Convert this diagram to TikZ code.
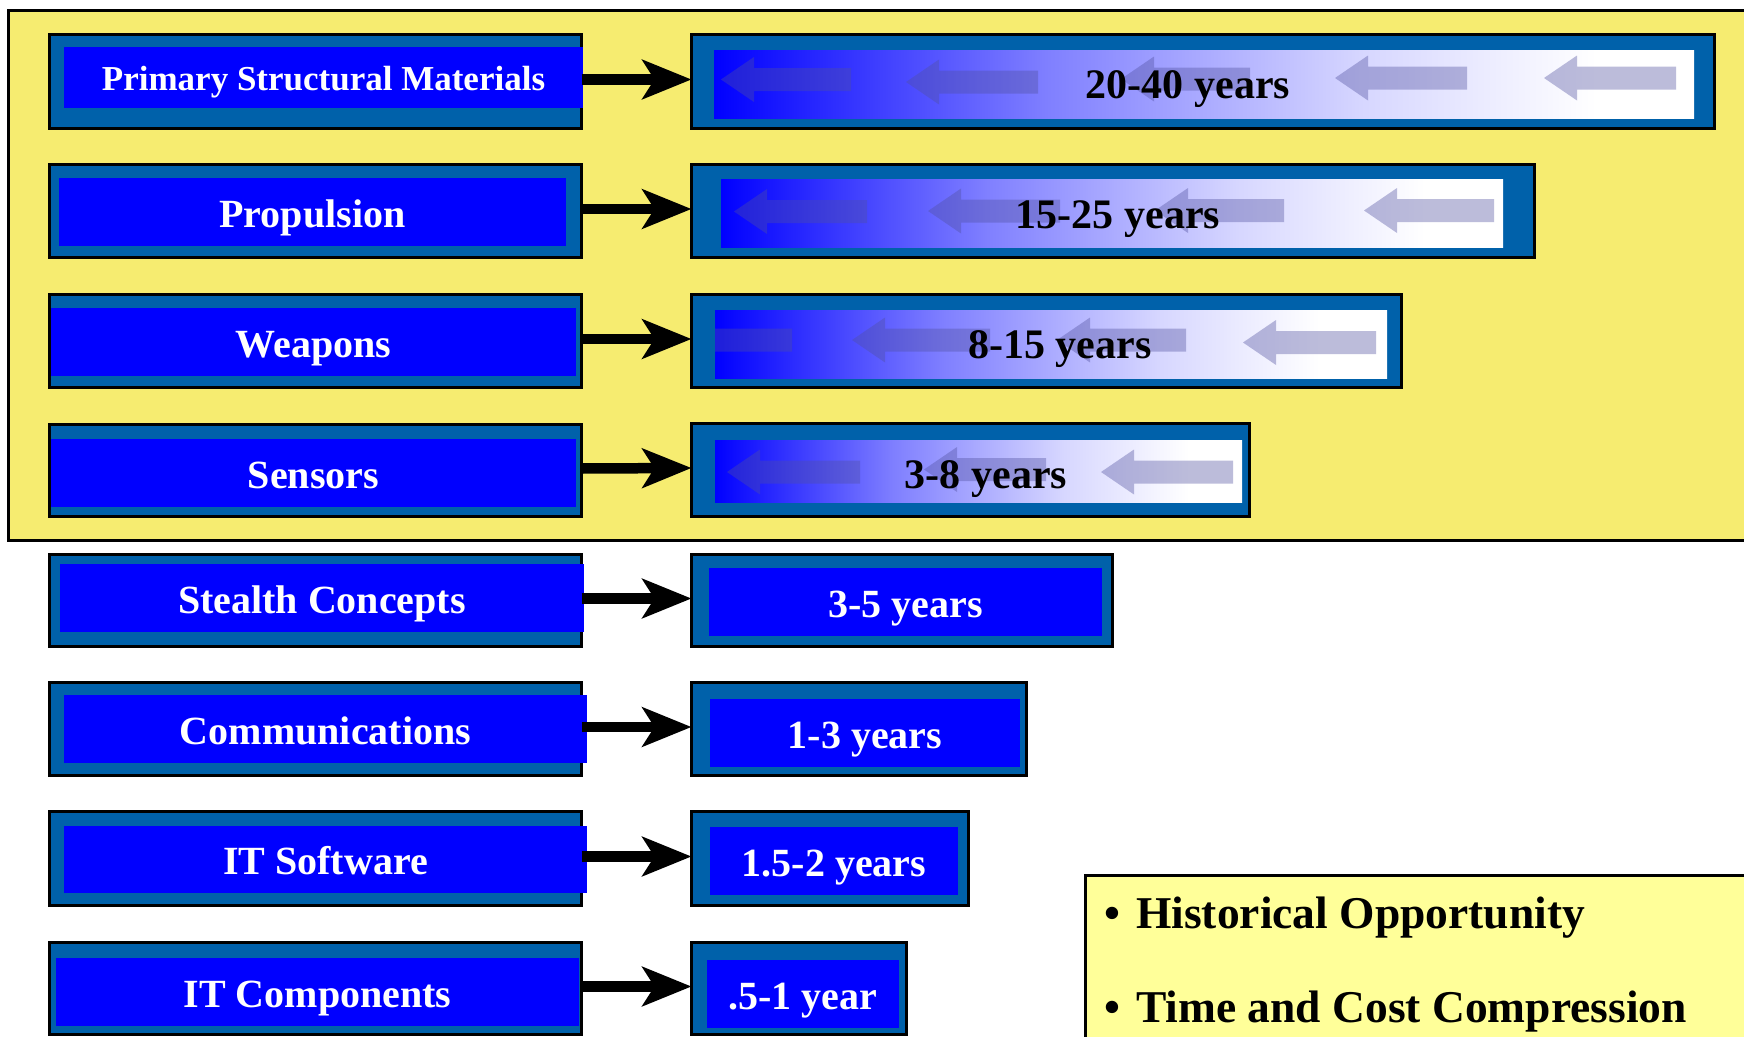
\documentclass[tikz,border=0pt]{standalone}
\usepackage{fontspec}
\setmainfont{Liberation Serif}
\usetikzlibrary{arrows.meta}
\definecolor{ybg}{RGB}{246,236,112}
\definecolor{ylight}{RGB}{255,255,153}
\definecolor{dblue}{RGB}{0,97,170}
\definecolor{garrc}{RGB}{80,80,160}
\colorlet{gmidA}{blue!50!white}
\colorlet{gmidB}{blue!16!white}
\pgfdeclarehorizontalshading{bwfade}{100bp}{color(0bp)=(blue); color(25bp)=(blue); color(42bp)=(gmidA); color(58bp)=(gmidB); color(70bp)=(white); color(100bp)=(white)}
\newcommand\bx[7]{\node[#6, minimum width={#4-#2}, minimum height={#5-#3}] (#1) at ({(#2+#4)/2},{(#3+#5)/2}) {#7};}
\newcommand\garr[3]{\fill[garrc, fill opacity=0.38] (#1,#3) -- ++(33,-22.5) -- ++(0,11) -- (#2,#3-11.5) -- (#2,#3+11.5) -- (#1+33,#3+11.5) -- ++(0,11) -- cycle;}
\tikzset{
  obox/.style={draw=black, line width=3pt, fill=dblue, inner sep=0pt, outer sep=0pt},
  ibox/.style={fill=blue, inner sep=0pt, outer sep=0pt, text=white, font=\bfseries\fontsize{40}{40}\selectfont, text height=30.5pt, text depth=0pt},
  gbox/.style={shading=bwfade, inner sep=0pt, outer sep=0pt},
  glabel/.style={inner sep=0pt, text=black, font=\bfseries\fontsize{42}{42}\selectfont, text height=30.8pt, text depth=0pt},
  blabel/.style={inner sep=0pt, text=black, font=\bfseries\fontsize{45.5}{45.5}\selectfont},
  conn/.style={line width=10.5pt, draw=black, -{Stealth[length=49pt, width=39pt, inset=12pt]}}
}
\begin{document}
\begin{tikzpicture}[x=1pt, y=-1pt]
\useasboundingbox (0,0) rectangle (1744,1036);
\clip (0,0) rectangle (1744,1036);
% background panels
\draw[fill=ybg, line width=3pt] (8,10) rectangle (1760,540);
\draw[fill=ylight, line width=3pt] (1085.5,875.5) rectangle (1760,1050);
% left outer boxes
\bx{L1}{49.5}{34.5}{581.5}{128.5}{obox}{}
\bx{L2}{49.5}{164.5}{581.5}{257.5}{obox}{}
\bx{L3}{49.5}{294.5}{581.5}{387.5}{obox}{}
\bx{L4}{49.5}{424.5}{581.5}{516.5}{obox}{}
\bx{L5}{49.5}{554.5}{581.5}{646.5}{obox}{}
\bx{L6}{49.5}{682.5}{581.5}{775.5}{obox}{}
\bx{L7}{49.5}{811.5}{581.5}{905.5}{obox}{}
\bx{L8}{49.5}{942.5}{581.5}{1034.5}{obox}{}
% right outer boxes
\bx{R1}{691.5}{34.5}{1714.5}{128.5}{obox}{}
\bx{R2}{691.5}{164.5}{1534.5}{257.5}{obox}{}
\bx{R3}{691.5}{294.5}{1401.5}{387.5}{obox}{}
\bx{R4}{691.5}{423.5}{1249.5}{516.5}{obox}{}
\bx{R5}{691.5}{554.5}{1112.5}{646.5}{obox}{}
\bx{R6}{691.5}{682.5}{1026.5}{775.5}{obox}{}
\bx{R7}{691.5}{811.5}{968.5}{905.5}{obox}{}
\bx{R8}{691.5}{942.5}{906.5}{1034.5}{obox}{}
% left inner boxes with labels
\bx{L1i}{64}{47}{583}{108}{ibox, font=\bfseries\fontsize{35}{35}\selectfont, text height=26.5pt}{Primary Structural Materials}
\bx{L2i}{59}{178}{566}{246}{ibox}{Propulsion}
\bx{L3i}{51}{308}{576}{376}{ibox}{Weapons}
\bx{L4i}{51}{439}{576}{507}{ibox}{Sensors}
\bx{L5i}{60}{564}{584}{632}{ibox}{Stealth Concepts}
\bx{L6i}{64}{695}{587}{763}{ibox}{Communications}
\bx{L7i}{64}{826}{587}{893}{ibox}{IT Software}
\bx{L8i}{56}{958}{579}{1026}{ibox}{IT Components}
% right gradient boxes
\bx{R1i}{714}{50}{1694}{118}{gbox}{}
\bx{R2i}{721}{179}{1503}{247}{gbox}{}
\bx{R3i}{715}{310}{1387}{378}{gbox}{}
\bx{R4i}{715}{440}{1242}{502}{gbox}{}
% faint arrows inside gradient boxes
\begin{scope}
\clip (R1i.north west) rectangle (R1i.south east);
\garr{721}{851}{79.5}
\garr{906}{1038}{82}
\garr{1121}{1250}{79}
\garr{1335}{1467}{78}
\garr{1544}{1676}{78}
\end{scope}
\begin{scope}
\clip (R2i.north west) rectangle (R2i.south east);
\garr{734}{867}{211.5}
\garr{928}{1060}{211}
\garr{1155}{1284}{210.5}
\garr{1364}{1494}{210.5}
\end{scope}
\begin{scope}
\clip (R3i.north west) rectangle (R3i.south east);
\garr{682}{792}{340}
\garr{852}{990}{340}
\garr{1057}{1186}{340}
\garr{1243}{1376}{342.5}
\end{scope}
\begin{scope}
\clip (R4i.north west) rectangle (R4i.south east);
\garr{727}{860}{472}
\garr{924}{1046}{469.5}
\garr{1101}{1233}{472}
\end{scope}
% gradient labels
\node[glabel] (G1) at (1188,83) {20-40 years};
\node[glabel] (G2) at (1118,213) {15-25 years};
\node[glabel] (G3) at (1060,343) {8-15 years};
\node[glabel] (G4) at (986,473) {3-8 years};
% right blue boxes
\bx{R5i}{709}{568}{1102}{636}{ibox}{3-5 years}
\bx{R6i}{710}{699}{1020}{767}{ibox}{1-3 years}
\bx{R7i}{710}{827}{958}{895}{ibox}{1.5-2 years}
\bx{R8i}{707}{960}{899}{1028}{ibox}{.5-1 year}
% connectors
\foreach \i in {1,...,8}{
  \draw[conn] ([yshift=2pt]L\i.east) -- ([yshift=2pt]R\i.west);
}
% note box text
\node[blabel, anchor=base] (B1) at (1112.5,928) {\textbullet};
\node[blabel, anchor=base west] (T1) at (1136,928) {Historical Opportunity};
\node[blabel, anchor=base] (B2) at (1112.5,1022) {\textbullet};
\node[blabel, anchor=base west] (T2) at (1136,1022) {Time and Cost Compression};
\end{tikzpicture}
\end{document}
